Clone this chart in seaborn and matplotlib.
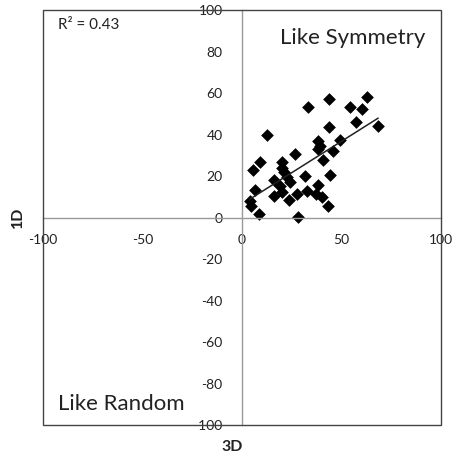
import matplotlib
matplotlib.use("Agg")
import matplotlib.pyplot as plt
import seaborn as sns
import numpy as np
import pandas as pd
from matplotlib.patches import Rectangle

x_3d = [62.9, 43.6, 33.2, 54.2, 60.6, 57.2, 68.5, 43.6, 12.6, 49.2, 38.3, 39.1, 38.3,
        45.6, 26.5, 40.6, 20.1, 9.2, 20.1, 21.0, 5.5, 22.7, 31.9, 44.5, 15.9, 24.3,
        19.3, 38.3, 6.7, 20.1, 32.7, 27.7, 37.4, 15.9, 40.0, 23.5, 4.2, 4.5, 43.1, 8.4, 28.2]
y_1d = [58.2, 57.1, 53.4, 53.4, 52.2, 45.9, 44.3, 43.5, 40.0, 37.4, 37.1, 34.7, 32.8,
        32.3, 30.7, 27.5, 26.7, 26.7, 24.0, 21.9, 22.7, 19.5, 20.0, 20.3, 17.9, 17.1,
        15.0, 15.5, 13.4, 12.3, 12.8, 11.5, 11.5, 10.4, 9.9, 8.6, 7.8, 5.4, 5.6, 1.9, 0.3]
xticks = [-100, -50, 0, 50, 100]
yticks = [-100, -80, -60, -40, -20, 0, 20, 40, 60, 80, 100]

df = pd.DataFrame({"3D": x_3d, "1D": y_1d})

sns.set_style("white")
plt.rcParams["font.family"] = ["Lato", "DejaVu Sans"]

fig = plt.figure(figsize=(4.54, 4.57), dpi=100)
ax = fig.add_axes([0.095, 0.070, 0.876, 0.908])

sns.regplot(data=df, x="3D", y="1D", ax=ax, ci=None, truncate=True, marker="D",
            scatter_kws=dict(s=42, color="black", linewidths=0, alpha=1),
            line_kws=dict(color="#222222", lw=1.1))

ax.set_xlim(-100, 100)
ax.set_ylim(-100, 100)
ax.set_xticks(xticks)
ax.set_yticks(yticks)
ax.set_xticklabels([str(v) for v in xticks], fontsize=12)
ax.set_yticklabels([str(v) for v in yticks], fontsize=12)

for s in ["top", "right"]:
    ax.spines[s].set_visible(False)
ax.spines["left"].set_position(("data", 0))
ax.spines["bottom"].set_position(("data", 0))
for s in ["left", "bottom"]:
    ax.spines[s].set_color("#999999")
    ax.spines[s].set_linewidth(1.0)
ax.tick_params(axis="both", direction="out", length=4, color="#999999", labelcolor="#222222")
ax.tick_params(axis="y", pad=10)
ax.tick_params(axis="x", pad=8)

ax.add_patch(Rectangle((0, 0), 1, 1, transform=ax.transAxes, fill=False,
                       edgecolor="#444444", lw=1.0, clip_on=False, zorder=5))

ax.set_xlabel("")
ax.set_ylabel("")
fig.text(0.511, 0.022, "3D", ha="center", va="center", fontsize=11.5, fontweight="bold", color="#222222")
fig.text(0.040, 0.525, "1D", ha="center", va="center", fontsize=11.5, fontweight="bold",
         rotation=90, color="#222222")

ax.text(-92.5, 93, "R² = 0.43", fontsize=11, color="#222222", ha="left", va="center")
ax.text(19, 86.5, "Like Symmetry", fontsize=16, color="#222222", ha="left", va="center")
ax.text(-92.5, -90, "Like Random", fontsize=16, color="#222222", ha="left", va="center")

fig.savefig("out.png", dpi=100)
